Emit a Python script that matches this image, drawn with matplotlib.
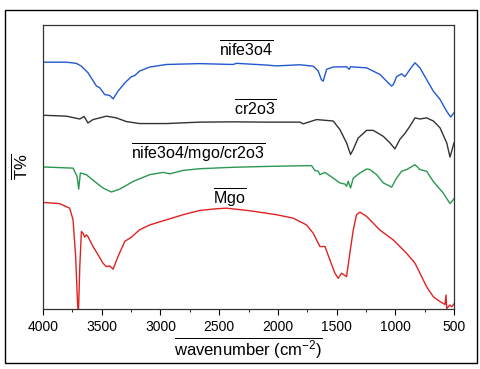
import matplotlib.pyplot as plt
from matplotlib.patches import Rectangle

plt.rcParams['font.family'] = ['Liberation Sans', 'DejaVu Sans']
plt.rcParams['mathtext.fontset'] = 'custom'
plt.rcParams['mathtext.rm'] = 'Liberation Sans'
plt.rcParams['mathtext.it'] = 'Liberation Sans'

# wavenumber / transmittance (arbitrary offsets)
nife_w = [3986, 3801, 3716, 3673, 3617, 3545, 3517, 3474, 3432, 3403, 3361, 3304, 3247,
          3219, 3177, 3091, 2949, 2665, 2381, 2352, 2097, 2012, 1812, 1699, 1656, 1630,
          1614, 1585, 1529, 1415, 1392, 1381, 1244, 1131, 1074, 1031, 1017, 989, 946,
          918, 875, 832, 790, 733, 676, 619, 562, 528, 500]
nife_t = [86.9, 86.9, 86.5, 85.5, 83.2, 78.5, 77.9, 75.5, 75.2, 74.0, 76.7, 79.6, 81.8,
          82.2, 83.8, 85.2, 86.1, 86.4, 86.1, 86.5, 85.9, 85.6, 86.0, 85.5, 83.8, 80.8,
          80.2, 84.4, 85.2, 85.3, 84.4, 85.3, 84.9, 82.6, 80.2, 78.5, 79.0, 81.8, 82.8,
          81.8, 84.4, 86.7, 84.9, 80.8, 76.7, 73.8, 69.6, 67.6, 69.1]

cr_w = [3986, 3801, 3687, 3650, 3617, 3574, 3460, 3375, 3290, 3177, 2949, 2665, 2381,
        2097, 1812, 1784, 1670, 1529, 1472, 1415, 1381, 1358, 1316, 1244, 1188, 1102,
        1046, 1003, 960, 918, 875, 832, 790, 733, 676, 619, 562, 534, 500]
cr_t = [68.2, 67.9, 66.9, 67.8, 65.5, 66.7, 67.9, 67.3, 66.0, 65.3, 65.3, 65.8, 65.9,
        65.8, 65.8, 65.2, 66.7, 66.2, 63.2, 58.5, 54.4, 56.2, 60.2, 62.9, 62.9, 60.8,
        58.5, 56.4, 59.8, 61.8, 64.4, 67.3, 66.9, 67.3, 66.2, 63.8, 58.5, 53.5, 58.5]

mix_w = [3986, 3744, 3710, 3696, 3682, 3631, 3545, 3489, 3418, 3347, 3233, 3091, 2977,
         2920, 2807, 2665, 2381, 2097, 1713, 1685, 1656, 1642, 1599, 1529, 1472, 1429,
         1415, 1401, 1381, 1358, 1301, 1244, 1216, 1159, 1102, 1031, 989, 946, 903,
         832, 790, 733, 676, 591, 534, 500]
mix_t = [50.0, 49.6, 46.7, 42.2, 47.9, 47.3, 44.4, 42.6, 41.2, 42.2, 44.9, 47.3, 48.1,
         47.6, 48.8, 49.4, 49.9, 50.2, 50.5, 48.8, 48.5, 47.3, 48.1, 46.1, 44.4, 44.0,
         43.2, 45.0, 42.6, 46.1, 47.9, 49.3, 49.1, 47.3, 44.4, 42.9, 46.1, 48.5, 49.1,
         50.8, 49.1, 48.5, 44.9, 40.8, 37.1, 38.8]

mgo_w = [3993, 3858, 3773, 3744, 3722, 3707, 3699, 3687, 3673, 3659, 3645, 3631, 3617,
         3574, 3531, 3489, 3460, 3432, 3403, 3361, 3304, 3247, 3177, 3091, 2949, 2807,
         2665, 2523, 2438, 2239, 2012, 1869, 1756, 1699, 1642, 1599, 1557, 1514, 1486,
         1458, 1443, 1415, 1387, 1358, 1330, 1301, 1244, 1131, 1017, 903, 832, 790,
         733, 676, 619, 577, 568, 562, 534, 520, 500]
mgo_t = [37.5, 37.1, 35.5, 31.4, 18.5, 3.2, -3.0, 14.6, 27.3, 26.7, 25.3, 26.1, 25.5,
         22.0, 19.1, 16.1, 14.9, 15.2, 14.0, 18.5, 23.8, 25.3, 27.9, 29.6, 31.4, 33.2,
         34.7, 35.3, 35.5, 34.6, 33.2, 32.0, 29.6, 26.7, 22.0, 22.0, 17.3, 12.6, 10.8,
         12.6, 12.2, 11.4, 19.6, 27.8, 33.2, 34.1, 32.6, 27.8, 24.3, 19.6, 16.1, 12.6,
         7.8, 4.3, 2.6, 1.6, 4.9, 0.2, 1.4, 0.8, 1.8]

labels = [r'$\overline{\mathrm{nife3o4}}$', r'$\overline{\mathrm{cr2o3}}$',
          r'$\overline{\mathrm{nife3o4/mgo/cr2o3}}$', r'$\overline{\mathrm{Mgo}}$']
label_w = [2267, 2196, 2680, 2409]
label_t = [91.2, 70.6, 54.7, 38.8]

fig = plt.figure(figsize=(4.8, 3.69), dpi=100)
fig.patches.append(Rectangle((5 / 480, 1 - 363 / 369), 472 / 480, 353 / 369,
                             transform=fig.transFigure, fill=False, lw=1, ec='black'))
ax = fig.add_axes([43 / 480, 1 - 309 / 369, 411 / 480, 284 / 369])

ax.plot(nife_w, nife_t, color='#2358d0', lw=1.0)
ax.plot(cr_w, cr_t, color='#333333', lw=1.0)
ax.plot(mix_w, mix_t, color='#2a9850', lw=1.0)
ax.plot(mgo_w, mgo_t, color='#e02222', lw=1.0)

for lab, w, t in zip(labels, label_w, label_t):
    ax.text(w, t, lab, ha='center', va='center', fontsize=11.5)

ax.set_xlim(4000, 500)
ax.set_ylim(0, 100)
ax.set_xticks([4000, 3500, 3000, 2500, 2000, 1500, 1000, 500])
ax.set_xticks(range(3750, 500, -500), minor=True)
ax.set_yticks([])
ax.tick_params(axis='x', labelsize=10, length=4, width=0.8, pad=4)
ax.tick_params(axis='x', which='minor', length=2.5, width=0.6)
for s in ax.spines.values():
    s.set_linewidth(0.9)
    s.set_color('#333333')

ax.set_xlabel(r'$\overline{\mathrm{wavenumber\ (cm^{-2})}}$', fontsize=12, labelpad=1)
ax.set_ylabel(r'$\overline{\mathrm{T\%}}$', fontsize=12, labelpad=9)

fig.savefig('out.png', dpi=100)
